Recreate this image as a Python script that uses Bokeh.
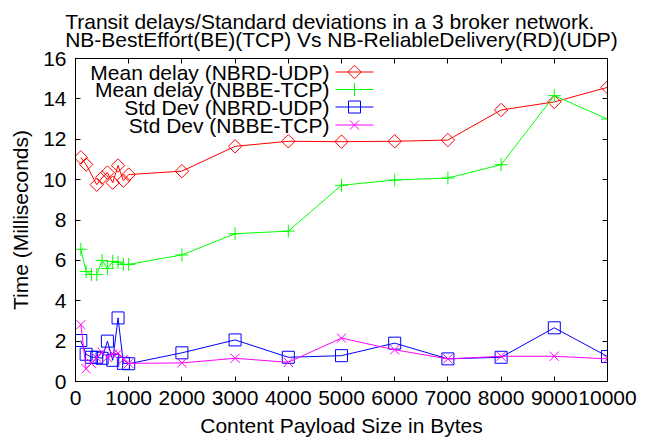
from bokeh.plotting import figure
from bokeh.models import Range1d, LinearAxis, Label, FixedTicker, Title
from bokeh.embed import file_html
from bokeh.resources import INLINE
import math

# ---------------- data ----------------
x_rd_mean = [100, 200, 400, 500, 600, 700, 800, 900, 1000,
             2000, 3000, 4000, 5000, 6000, 7000, 8000, 9000, 10000]
y_rd_mean = [11.1, 10.75, 9.75, 10.1, 10.35, 9.85, 10.7, 9.95, 10.25,
             10.42, 11.65, 11.9, 11.88, 11.9, 11.96, 13.45, 13.85, 14.57]

x_all = [100, 200, 300, 400, 500, 600, 700, 800, 900, 1000,
         2000, 3000, 4000, 5000, 6000, 7000, 8000, 9000, 10000]
y_be_mean = [6.55, 5.45, 5.3, 5.3, 6.0, 5.6, 5.95, 5.9, 5.8, 5.8,
             6.27, 7.32, 7.45, 9.72, 9.98, 10.08, 10.74, 14.16, 13.0]
y_rd_std = [2.03, 1.35, 1.2, 1.2, 1.15, 2.0, 1.05, 3.15, 0.9, 0.88,
            1.42, 2.06, 1.2, 1.28, 1.9, 1.12, 1.2, 2.66, 1.24]
y_be_std = [2.82, 0.63, 0.9, 1.17, 1.45, 1.2, 1.37, 1.4, 1.1, 0.9,
            0.92, 1.15, 0.95, 2.15, 1.57, 1.12, 1.25, 1.25, 1.12]

series_names = ["Mean delay (NBRD-UDP)", "Mean delay (NBBE-TCP)",
                "Std Dev (NBRD-UDP)", "Std Dev (NBBE-TCP)"]
title_lines = ["Transit delays/Standard deviations in a 3 broker network.",
               "NB-BestEffort(BE)(TCP) Vs NB-ReliableDelivery(RD)(UDP)"]
x_ticks = [0, 1000, 2000, 3000, 4000, 5000, 6000, 7000, 8000, 9000, 10000]
y_ticks = [0, 2, 4, 6, 8, 10, 12, 14, 16]
x_label = "Content Payload Size in Bytes"
y_label = "Time (Milliseconds)"

# ---------------- layout ----------------
FONT = "Liberation Sans"
FS = "21px"
X0, X1, Y0, Y1 = 0, 10000, 0, 16
FRAME_L, FRAME_T, FRAME_W, FRAME_H = 75, 58, 532, 323  # picture px


def px_x(px):
    return X0 + (px - FRAME_L) / FRAME_W * (X1 - X0)


def px_y(py):
    return Y0 + (FRAME_T + FRAME_H - py) / FRAME_H * (Y1 - Y0)


p = figure(frame_width=FRAME_W, frame_height=FRAME_H,
           x_range=Range1d(X0, X1), y_range=Range1d(Y0, Y1),
           output_backend="svg", toolbar_location=None,
           min_border_left=FRAME_L, min_border_right=30,
           min_border_top=FRAME_T, min_border_bottom=55)
p.background_fill_color = "white"
p.border_fill_color = "white"
p.outline_line_color = "black"
p.outline_line_width = 1
p.xgrid.visible = False
p.ygrid.visible = False

for ax in (p.xaxis[0], p.yaxis[0]):
    ax.major_label_text_font = FONT
    ax.major_label_text_font_size = FS
    ax.major_label_text_color = "black"
    ax.axis_label_text_font = FONT
    ax.axis_label_text_font_size = FS
    ax.axis_label_text_font_style = "normal"
    ax.axis_label_text_color = "black"
    ax.major_tick_in = 5
    ax.major_tick_out = 0
    ax.minor_tick_in = 0
    ax.minor_tick_out = 0
    ax.axis_line_color = "black"
    ax.major_tick_line_color = "black"

p.xaxis[0].ticker = FixedTicker(ticks=x_ticks)
p.yaxis[0].ticker = FixedTicker(ticks=y_ticks)
p.xaxis[0].axis_label = x_label
p.yaxis[0].axis_label = y_label
p.xaxis[0].major_label_standoff = 9
p.xaxis[0].axis_label_standoff = 6
p.yaxis[0].major_label_standoff = 9
p.yaxis[0].axis_label_standoff = 8

# mirrored ticks (no labels)
top = LinearAxis(ticker=FixedTicker(ticks=x_ticks),
                 major_label_overrides={t: "" for t in x_ticks})
right = LinearAxis(ticker=FixedTicker(ticks=y_ticks),
                   major_label_overrides={t: "" for t in y_ticks})
for ax in (top, right):
    ax.major_label_standoff = 0
    ax.major_tick_in = 5
    ax.major_tick_out = 0
    ax.minor_tick_in = 0
    ax.minor_tick_out = 0
    ax.axis_line_color = "black"
    ax.major_tick_line_color = "black"
p.add_layout(top, "above")
p.add_layout(right, "right")

# ---------------- title (two lines in one title) ----------------
p.add_layout(Title(text="\n".join(title_lines), align="center", offset=-4,
                   standoff=14, text_line_height=0.8,
                   text_font=FONT, text_font_size=FS,
                   text_font_style="normal", text_color="black"), "above")

# ---------------- series ----------------
RED, GREEN, BLUE, MAG = "#ff0000", "#00ff00", "#0000ff", "#ff00ff"

p.line(x_rd_mean, y_rd_mean, line_color=RED, line_width=1)
p.scatter(x_rd_mean, y_rd_mean, marker="square", angle=math.pi / 4, size=9.5,
          fill_color=None, line_color=RED, line_width=1)

p.line(x_all, y_be_mean, line_color=GREEN, line_width=1)
p.scatter(x_all, y_be_mean, marker="cross", size=13,
          line_color=GREEN, line_width=1)

p.line(x_all, y_rd_std, line_color=BLUE, line_width=1)
p.scatter(x_all, y_rd_std, marker="square", size=12,
          fill_color=None, line_color=BLUE, line_width=1)

p.line(x_all, y_be_std, line_color=MAG, line_width=1)
p.scatter(x_all, y_be_std, marker="x", size=13,
          line_color=MAG, line_width=1)

# ---------------- legend (gnuplot style: text right, sample at right) ----
rows_py = [71.5, 89, 106.5, 124.5]
txt_right_px = 329
samp_l_px, samp_r_px, samp_m_px = 335, 373, 354
legend_styles = [
    (RED, dict(marker="square", angle=math.pi / 4, size=9.5, fill_color=None)),
    (GREEN, dict(marker="cross", size=13)),
    (BLUE, dict(marker="square", size=12, fill_color=None)),
    (MAG, dict(marker="x", size=13)),
]
for name, py, (col, mk) in zip(series_names, rows_py, legend_styles):
    p.add_layout(Label(x=px_x(txt_right_px), y=px_y(py), text=name,
                       text_align="right", text_baseline="middle",
                       text_font=FONT, text_font_size=FS, text_color="black"))
    p.line([px_x(samp_l_px), px_x(samp_r_px)], [px_y(py), px_y(py)],
           line_color=col, line_width=1)
    p.scatter([px_x(samp_m_px)], [px_y(py)], line_color=col, line_width=1, **mk)

open("out.html", "w").write(file_html(p, INLINE))
